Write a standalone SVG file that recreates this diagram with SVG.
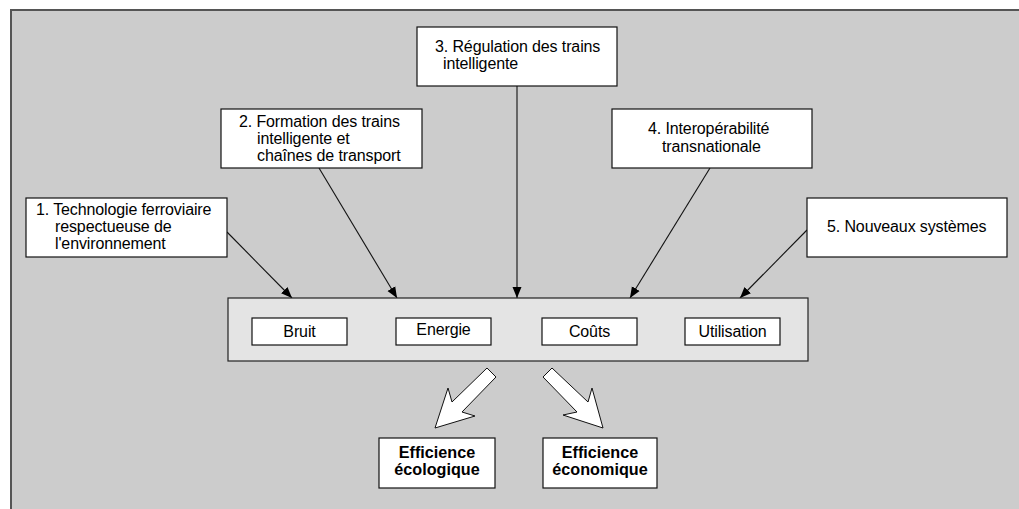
<svg xmlns="http://www.w3.org/2000/svg" width="1019" height="509" viewBox="0 0 1019 509">
<style>
text{font-family:"Liberation Sans",Arial,sans-serif;font-size:16px;letter-spacing:-0.12px;fill:#000}
.b{font-weight:bold;font-size:16.2px;letter-spacing:0}
.box{fill:#fff;stroke:#111;stroke-width:1.2}
.conn{stroke:#111;stroke-width:1.1;fill:none;marker-end:url(#ah)}
.fat{fill:#fff;stroke:#111;stroke-width:1;stroke-linejoin:miter}
</style>
<defs>
<marker id="ah" markerWidth="12" markerHeight="10" refX="11" refY="5" orient="auto" markerUnits="userSpaceOnUse">
<path d="M0,0.5 L11,5 L0,9.5 Z" fill="#000"/>
</marker>
</defs>
<rect x="0" y="0" width="1019" height="509" fill="#fff"/>
<rect x="10" y="9.5" width="1015" height="505" fill="#cccccc"/>
<path d="M11,509 V10 H1019" fill="none" stroke="#555" stroke-width="2"/>

<g id="connectors">
<line class="conn" x1="227" y1="232" x2="292" y2="298"/>
<line class="conn" x1="319" y1="168" x2="397" y2="298"/>
<line class="conn" x1="517" y1="86" x2="517" y2="298"/>
<line class="conn" x1="710" y1="168" x2="630" y2="298"/>
<line class="conn" x1="807" y1="230" x2="740" y2="298"/>
<polygon class="fat" points="487,368 452,402 448,388 435,428 475,416 462,412 496,377"/>
<polygon class="fat" points="552,368 588,402 592,388 603,428 563,415 577,412 543,377"/>
</g>

<g id="n1">
<rect class="box" x="26" y="198" width="201" height="59"/>
<text x="36" y="214.5">1. Technologie ferroviaire</text>
<text x="55" y="231.5">respectueuse de</text>
<text x="55" y="248.5">l'environnement</text>
</g>
<g id="n2">
<rect class="box" x="221" y="109" width="201" height="59"/>
<text x="239" y="126.5">2. Formation des trains</text>
<text x="257" y="143.5">intelligente et</text>
<text x="257" y="160.5">chaînes de transport</text>
</g>
<g id="n3">
<rect class="box" x="417" y="27" width="200" height="59"/>
<text x="435" y="52">3. Régulation des trains</text>
<text x="443" y="69">intelligente</text>
</g>
<g id="n4">
<rect class="box" x="612" y="109" width="200" height="59"/>
<text x="648" y="134">4. Interopérabilité</text>
<text x="662" y="151.5">transnationale</text>
</g>
<g id="n5">
<rect class="box" x="807" y="198" width="200" height="59"/>
<text x="827" y="232">5. Nouveaux systèmes</text>
</g>

<g id="panel">
<rect x="228" y="298" width="580" height="63" fill="#e4e4e4" stroke="#222" stroke-width="1.2"/>
</g>
<g id="bruit">
<rect class="box" x="252" y="318" width="95" height="27"/>
<text x="299.5" y="337" text-anchor="middle">Bruit</text>
</g>
<g id="energie">
<rect class="box" x="396" y="318" width="95" height="27"/>
<text x="443.5" y="335" text-anchor="middle">Energie</text>
</g>
<g id="couts">
<rect class="box" x="542" y="318" width="95" height="27"/>
<text x="589.5" y="337" text-anchor="middle">Coûts</text>
</g>
<g id="utilisation">
<rect class="box" x="685" y="318" width="95" height="27"/>
<text x="732.5" y="337" text-anchor="middle">Utilisation</text>
</g>

<g id="eco">
<rect class="box" x="379" y="438" width="116" height="50"/>
<text class="b" x="437" y="458" text-anchor="middle">Efficience</text>
<text class="b" x="437" y="475" text-anchor="middle">écologique</text>
</g>
<g id="econ">
<rect class="box" x="543" y="438" width="114" height="50"/>
<text class="b" x="600" y="458" text-anchor="middle">Efficience</text>
<text class="b" x="600" y="475" text-anchor="middle">économique</text>
</g>
</svg>
